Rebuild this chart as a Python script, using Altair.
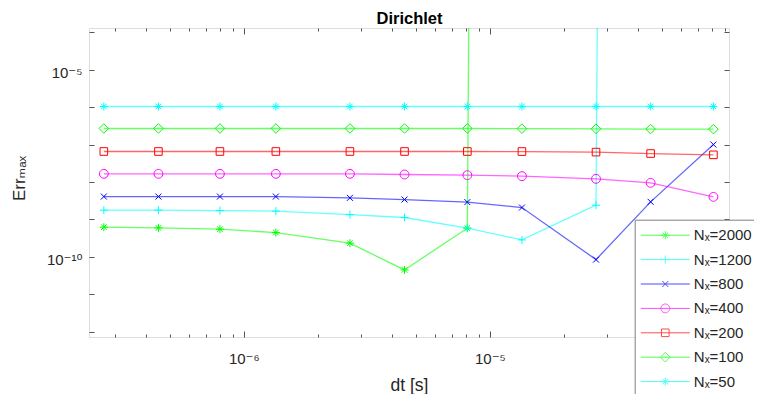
import math
import altair as alt
import pandas as pd

# ---------------- data ----------------
dt = [2.7e-7, 4.5e-7, 8.0e-7, 1.35e-6, 2.7e-6, 4.5e-6, 8.1e-6, 1.35e-5, 2.7e-5, 4.5e-5, 8.1e-5]
BIG = 1e200  # diverged (off the top of the axes)
err_2000 = [6.18e-10, 5.92e-10, 5.46e-10, 4.43e-10, 2.31e-10, 4.45e-11, 5.81e-10, BIG, None, None, None]
err_1200 = [1.76e-9, 1.76e-9, 1.72e-9, 1.66e-9, 1.34e-9, 1.12e-9, 5.81e-10, 2.82e-10, 2.39e-9, BIG, None]
err_800 = [4.07e-9, 4.07e-9, 4.07e-9, 4.07e-9, 3.76e-9, 3.39e-9, 2.89e-9, 2.07e-9, 8.39e-11, 2.94e-9, 1.00e-7]
err_400 = [1.65e-8, 1.65e-8, 1.65e-8, 1.65e-8, 1.65e-8, 1.58e-8, 1.52e-8, 1.43e-8, 1.21e-8, 9.46e-9, 3.99e-9]
err_200 = [6.52e-8, 6.52e-8, 6.52e-8, 6.52e-8, 6.52e-8, 6.52e-8, 6.52e-8, 6.50e-8, 6.28e-8, 5.75e-8, 5.31e-8]
err_100 = [2.69e-7, 2.69e-7, 2.69e-7, 2.69e-7, 2.69e-7, 2.69e-7, 2.69e-7, 2.66e-7, 2.64e-7, 2.60e-7, 2.58e-7]
err_50 = [1.04e-6, 1.04e-6, 1.04e-6, 1.04e-6, 1.04e-6, 1.04e-6, 1.04e-6, 1.04e-6, 1.04e-6, 1.04e-6, 1.04e-6]

series_names = ["Nₓ=2000", "Nₓ=1200", "Nₓ=800", "Nₓ=400", "Nₓ=200", "Nₓ=100", "Nₓ=50"]
series_values = [err_2000, err_1200, err_800, err_400, err_200, err_100, err_50]
series_colors = ["#00ff00", "#00ffff", "#0000ff", "#ff00ff", "#ff0000", "#00ff00", "#00ffff"]

x_major = [1e-6, 1e-5]
x_major_txt = ["10⁻⁶", "10⁻⁵"]
x_minor = [3e-7, 4e-7, 5e-7, 6e-7, 7e-7, 8e-7, 9e-7,
           2e-6, 3e-6, 4e-6, 5e-6, 6e-6, 7e-6, 8e-6, 9e-6,
           2e-5, 3e-5, 4e-5, 5e-5, 6e-5, 7e-5, 8e-5, 9e-5]
y_major = [1e-10, 1e-5]
y_major_txt = ["10⁻¹⁰", "10⁻⁵"]
y_decades = [1e-12, 1e-11, 1e-10, 1e-9, 1e-8, 1e-7, 1e-6, 1e-5, 1e-4]

rows = []
for name, vals in zip(series_names, series_values):
    for d, v in zip(dt, vals):
        if v is not None:
            rows.append({"dt": d, "err": v, "series": name})
df = pd.DataFrame(rows)

# ---------------- marker geometry ----------------
def poly(r, n=24):
    pts = ["%.3f,%.3f" % (r * math.cos(2 * math.pi * k / n), r * math.sin(2 * math.pi * k / n)) for k in range(n)]
    return "M" + "L".join(pts) + "Z"

def star(r):
    a = round(r * 0.7, 3)
    return f"M{-r},0H{r}M0,{-r}V{r}M{-a},{-a}L{a},{a}M{-a},{a}L{a},{-a}"

def plus(r):
    return f"M{-r},0H{r}M0,{-r}V{r}"

def cross(r):
    return f"M{-r},{-r}L{r},{r}M{-r},{r}L{r},{-r}"

def square(r):
    return f"M{-r},{-r}H{r}V{r}H{-r}Z"

def diamond(r):
    return f"M0,{-r}L{r},0L0,{r}L{-r},0Z"

plot_shapes = [star(1.0), plus(1.0), cross(0.75), poly(1.1), square(0.95), diamond(1.2), star(1.0)]
LINE = "M-4.9,0H4.9"
legend_shapes = [LINE + star(0.8), LINE + plus(0.8), LINE + cross(0.6), LINE + poly(0.88),
                 LINE + square(0.76), LINE + diamond(0.96), LINE + star(0.8)]

# ---------------- styling ----------------
FONT = "Liberation Sans, Arial, Helvetica, DejaVu Sans, sans-serif"
W, H = 640, 309
AX = "#555555"
TXT = "#262626"

xscale = alt.Scale(type="log", domain=[2.35e-7, 9.37e-5])
yscale = alt.Scale(type="log", domain=[7.16e-13, 1.306e-4])
cscale = alt.Scale(domain=series_names, range=series_colors)


def lab_expr(exps, txts):
    return "[" + ",".join("'%s'" % t for t in txts) + "][indexof([" + ",".join(str(e) for e in exps) + \
        "], round(log(datum.value)/LN10))]"


def tick_axis(orient, offset, values, size):
    return alt.Axis(orient=orient, offset=offset, values=values, labels=False, domain=False,
                    grid=False, tickSize=size, tickColor=AX, tickWidth=1, title=None)


base = alt.Chart(df)

lines = base.mark_line(strokeWidth=1.3, strokeOpacity=0.6, clip=True).encode(
    x=alt.X("dt:Q", scale=xscale, axis=alt.Axis(
        orient="bottom", values=x_major,
        labelExpr=lab_expr([-6, -5], x_major_txt),
        ticks=False, tickSize=0, domain=False, grid=False,
        labelFontSize=15, labelFont=FONT, labelColor=TXT, labelPadding=14,
        title="dt [s]", titleFontSize=17.5, titleFont=FONT, titleColor=TXT,
        titleFontWeight="normal", titleY=53, titleBaseline="alphabetic")),
    y=alt.Y("err:Q", scale=yscale, axis=alt.Axis(
        orient="left", values=y_major,
        labelExpr=lab_expr([-10, -5], y_major_txt),
        ticks=False, tickSize=0, domain=False, grid=False,
        labelFontSize=15, labelFont=FONT, labelColor=TXT, labelPadding=7, labelOffset=3,
        title="Errₘₐₓ", titleFontSize=17, titleFont=FONT, titleColor=TXT,
        titleFontWeight="normal", titleX=-65, titleY=150, titleAngle=270,
        titleAlign="center", titleBaseline="alphabetic")),
    color=alt.Color("series:N", scale=cscale, legend=None),
    detail="series:N",
)

points = base.mark_point(filled=False, strokeWidth=1, size=64, clip=True, opacity=1).encode(
    x=alt.X("dt:Q", scale=xscale, axis=tick_axis("top", -H, x_minor, 3)),
    y=alt.Y("err:Q", scale=yscale, axis=tick_axis("right", -W, y_decades, 5)),
    color=alt.Color("series:N", scale=cscale, legend=None),
    shape=alt.Shape("series:N", scale=alt.Scale(domain=series_names, range=plot_shapes), legend=None),
)

leg = dict(orient="none", legendX=545.7, legendY=191.7, title=None,
           fillColor="white", strokeColor="#808080", padding=8,
           labelFontSize=15, labelFont=FONT, labelColor=TXT,
           rowPadding=8.4, symbolOffset=15.1, labelOffset=21,
           symbolStrokeWidth=1, symbolSize=100)

legend_layer = base.transform_filter("false").mark_point(filled=False, strokeWidth=1, size=100).encode(
    x=alt.X("dt:Q", scale=xscale, axis=tick_axis("bottom", -H, x_minor, 3)),
    y=alt.Y("err:Q", scale=yscale, axis=tick_axis("left", -W, y_decades, 5)),
    color=alt.Color("series:N", scale=cscale, legend=alt.Legend(**leg)),
    shape=alt.Shape("series:N", scale=alt.Scale(domain=series_names, range=legend_shapes),
                    legend=alt.Legend(**leg)),
)

major_top = base.transform_filter("false").mark_point(opacity=0).encode(
    x=alt.X("dt:Q", scale=xscale, axis=tick_axis("top", -H, x_major, 6)),
    y=alt.Y("err:Q", scale=yscale, axis=None),
)
major_bottom = base.transform_filter("false").mark_point(opacity=0).encode(
    x=alt.X("dt:Q", scale=xscale, axis=tick_axis("bottom", -H, x_major, 6)),
    y=alt.Y("err:Q", scale=yscale, axis=None),
)
# chart title carried by a label-less top axis
title_layer = base.transform_filter("false").mark_point(opacity=0).encode(
    x=alt.X("dt:Q", scale=xscale, axis=alt.Axis(
        orient="top", values=x_major, ticks=False, labels=False, domain=False, grid=False,
        title="Dirichlet", titleFontSize=16.5, titleFontWeight="bold", titleFont=FONT,
        titleColor="#000000", titleY=-5, titleBaseline="alphabetic")),
    y=alt.Y("err:Q", scale=yscale, axis=None),
)

chart = alt.layer(lines, points, legend_layer, major_top, major_bottom, title_layer).resolve_scale(
    color="independent", shape="independent"
).resolve_axis(
    x="independent", y="independent"
).properties(
    width=W, height=H,
    padding={"left": 81, "top": 20, "right": 25, "bottom": 57},
    autosize=alt.AutoSizeParams(type="none"),
).configure_view(stroke=AX, strokeWidth=1).configure(background="white")

chart.save("out.html", embed_options={"renderer": "svg", "actions": False})
